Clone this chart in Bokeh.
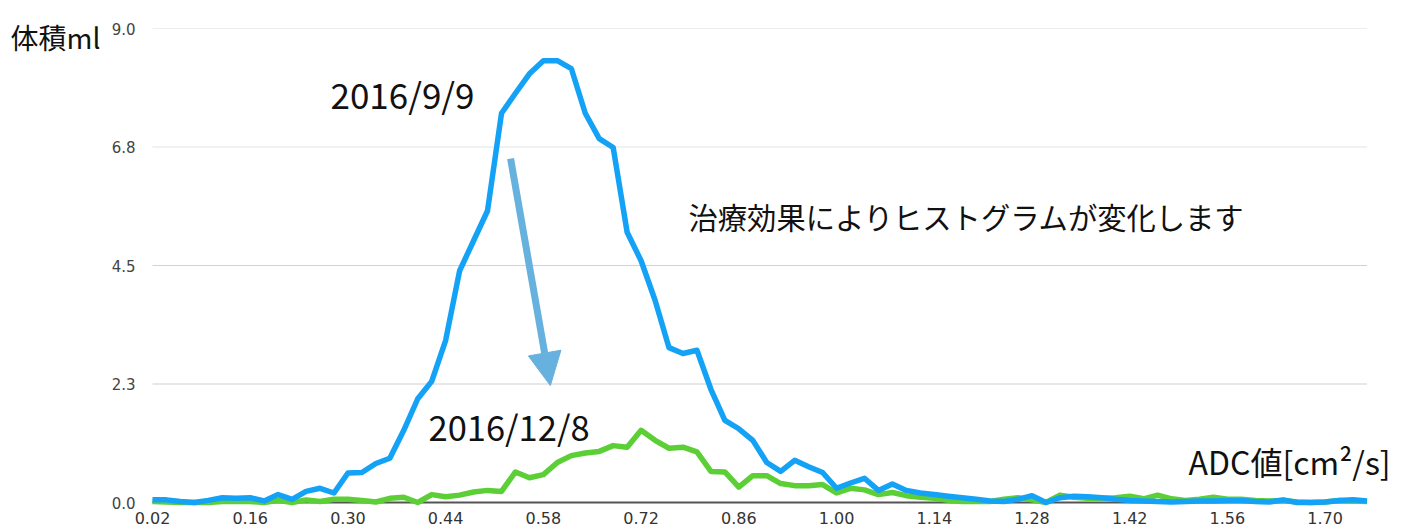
from bokeh.plotting import figure
from bokeh.models import (Range1d, Label, Arrow, NormalHead, ColumnDataSource)
from bokeh.core.properties import value
from bokeh.embed import file_html
from bokeh.resources import INLINE

# ---------------- data ----------------
adc = [round(0.02 + 0.02 * i, 2) for i in range(88)]   # ADC bins [cm2/s]

vol_2016_09_09 = [
    0.05, 0.05, 0.02, 0.00, 0.04, 0.09, 0.08, 0.09, 0.03, 0.15,
    0.06, 0.21, 0.27, 0.18, 0.56, 0.57, 0.74, 0.84, 1.37, 1.97,
    2.30, 3.08, 4.40, 4.97, 5.54, 7.39, 7.77, 8.14, 8.39, 8.39,
    8.24, 7.39, 6.91, 6.74, 5.13, 4.59, 3.84, 2.94, 2.83, 2.89,
    2.15, 1.56, 1.40, 1.18, 0.76, 0.59, 0.80, 0.68, 0.57, 0.27,
    0.37, 0.46, 0.23, 0.35, 0.23, 0.18, 0.15, 0.12, 0.09, 0.06,
    0.03, 0.02, 0.06, 0.13, 0.00, 0.09, 0.12, 0.11, 0.09, 0.06,
    0.04, 0.03, 0.02, 0.01, 0.02, 0.03, 0.03, 0.04, 0.04, 0.02,
    0.01, 0.05, 0.00, 0.00, 0.01, 0.04, 0.05, 0.03,
]

vol_2016_12_08 = [
    0.02, 0.01, 0.00, 0.00, 0.00, 0.02, 0.02, 0.02, 0.00, 0.04,
    0.00, 0.05, 0.02, 0.06, 0.06, 0.04, 0.01, 0.08, 0.10, 0.00,
    0.15, 0.11, 0.14, 0.20, 0.23, 0.21, 0.58, 0.47, 0.53, 0.76,
    0.89, 0.94, 0.97, 1.08, 1.05, 1.37, 1.18, 1.03, 1.05, 0.96,
    0.59, 0.58, 0.29, 0.51, 0.51, 0.36, 0.32, 0.32, 0.34, 0.18,
    0.27, 0.24, 0.15, 0.19, 0.13, 0.10, 0.08, 0.04, 0.02, 0.02,
    0.02, 0.06, 0.09, 0.05, 0.00, 0.14, 0.10, 0.08, 0.08, 0.09,
    0.12, 0.07, 0.14, 0.07, 0.04, 0.06, 0.10, 0.06, 0.06, 0.04,
    0.03, 0.04, 0.01, 0.00, 0.01, 0.04, 0.03, 0.02,
]

y_ticks = [0.0, 2.25, 4.5, 6.75, 9.0]
y_tick_labels = ["0.0", "2.3", "4.5", "6.8", "9.0"]
x_ticks = [round(0.02 + 0.14 * k, 2) for k in range(13)]
x_tick_labels = ["%.2f" % t for t in x_ticks]

# ---------------- layout constants ----------------
W, H = 1400, 529
PX_PER_X = 698.0          # pixels per ADC unit
PX_PER_Y = 474.0 / 9.0    # pixels per ml
X_LEFT_PX = 152           # pixel column of first bin
Y_ZERO_PX = 502           # pixel row of zero volume

x_start = adc[0] - X_LEFT_PX / PX_PER_X
x_end = x_start + W / PX_PER_X
y_end = 9.0 + (Y_ZERO_PX - 474.0) / PX_PER_Y
y_start = y_end - H / PX_PER_Y

FONT = "Noto Sans CJK JP"
TICK_FONT = "DejaVu Sans"
BLUE = "#14a2f6"
GREEN = "#5ccf37"
ARROW = "#66b1dd"

src = ColumnDataSource(dict(x=adc, a=vol_2016_09_09, b=vol_2016_12_08))

p = figure(width=W, height=H, output_backend="svg", toolbar_location=None,
           x_range=Range1d(x_start, x_end), y_range=Range1d(y_start, y_end),
           x_axis_location=None, y_axis_location=None,
           min_border=0)
p.outline_line_color = None
p.background_fill_color = "white"
p.border_fill_color = "white"
p.grid.visible = False

# gridlines (from the y ticks)
grid_y = y_ticks[1:]
grid_colors = ["#cfcfcf", "#d2d2d2", "#e4e4e4", "#ededed"]
p.segment(x0=[adc[0]] * len(grid_y), x1=[adc[-1]] * len(grid_y),
          y0=grid_y, y1=grid_y, line_color=grid_colors, line_width=1.2)

# x axis baseline
p.segment(x0=[adc[0]], x1=[adc[-1]], y0=[0.0], y1=[0.0],
          line_color="#555555", line_width=2)

# tick labels
p.text(x=[adc[0]] * len(y_ticks), y=y_ticks, text=y_tick_labels,
       x_offset=-17, text_align="right", text_baseline="middle",
       text_font=value(TICK_FONT), text_font_size="15px", text_color="#444444")
p.text(x=x_ticks, y=[0.0] * len(x_ticks), text=x_tick_labels,
       y_offset=15, text_align="center", text_baseline="middle",
       text_font=value(TICK_FONT), text_font_size="16px", text_color="#333333")

# series
p.line("x", "b", source=src, line_color=GREEN, line_width=5.5, line_join="round")
p.line("x", "a", source=src, line_color=BLUE, line_width=5.5, line_join="round")

# annotations
def lab(x, y, t, size):
    p.add_layout(Label(x=x, y=y, text=t, text_font=FONT, text_font_size=size,
                       text_color="#111111", text_baseline="alphabetic",
                       text_align="left"))

lab(-0.1834, 8.848, "体積ml", "28px")
lab(0.275, 7.766, "2016/9/9", "35px")
lab(0.4154, 1.462, "2016/12/8", "34.5px")
lab(0.7879, 5.449, "治療効果によりヒストグラムが変化します", "29.3px")
lab(1.5043, 0.797, "ADC値[cm²/s]", "32px")

p.add_layout(Arrow(x_start=0.533, y_start=6.53, x_end=0.590, y_end=2.22,
                   line_color=ARROW, line_width=7,
                   end=NormalHead(size=33, fill_color=ARROW, line_color=ARROW)))

open("out.html", "w").write(file_html(p, INLINE))
